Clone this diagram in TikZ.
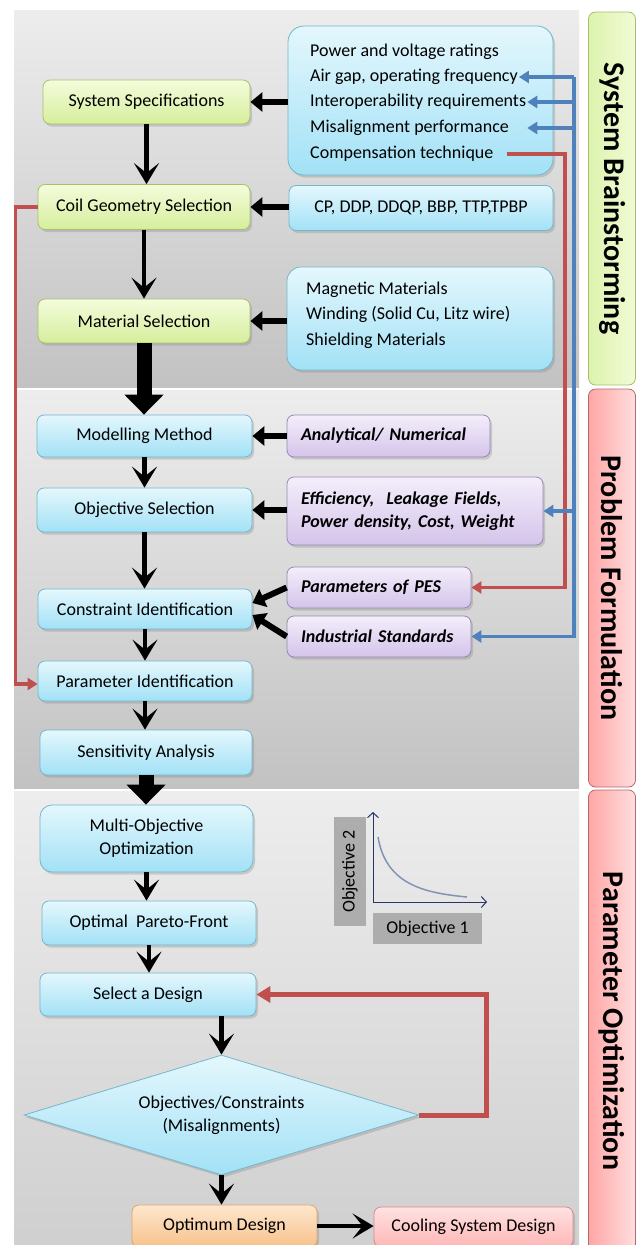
\documentclass[tikz,border=0pt]{standalone}
\usepackage{fontspec}
\setmainfont{Carlito}
\usetikzlibrary{shapes.geometric,arrows.meta,shadows,calc}

\definecolor{panelhi}{HTML}{EDEDED}
\definecolor{panello}{HTML}{C2C2C2}
\definecolor{panelmid}{HTML}{CFCFCF}
\definecolor{greentop}{HTML}{F4FCDC}
\definecolor{greenbot}{HTML}{D6EE9C}
\definecolor{greenedge}{HTML}{A6C06A}
\definecolor{bluetop}{HTML}{E4F7FD}
\definecolor{bluebot}{HTML}{A2E1F6}
\definecolor{blueedge}{HTML}{74B6CB}
\definecolor{purptop}{HTML}{F4EEFB}
\definecolor{purpbot}{HTML}{D4C4EA}
\definecolor{purpedge}{HTML}{9A86B6}
\definecolor{orantop}{HTML}{FDE6CE}
\definecolor{oranbot}{HTML}{F8C28C}
\definecolor{oranedge}{HTML}{E3A56C}
\definecolor{pinktop}{HTML}{FFE2E2}
\definecolor{pinkbot}{HTML}{FFB6B6}
\definecolor{pinkedge}{HTML}{D58A8A}
\definecolor{stagepinkl}{HTML}{FFA6A6}
\definecolor{stagepinkr}{HTML}{FFDEDE}
\definecolor{stagepinkedge}{HTML}{B46A6A}
\definecolor{stagegreenl}{HTML}{DDF3AE}
\definecolor{stagegreenr}{HTML}{F1FBD6}
\definecolor{linkred}{HTML}{C0504D}
\definecolor{linkblue}{HTML}{4F81BD}
\definecolor{axisblue}{HTML}{26366B}
\definecolor{curveblue}{HTML}{8194B4}
\definecolor{labelgray}{HTML}{ADADAD}

\newcommand{\boxfont}{\fontsize{18}{23}\selectfont}
\newcommand{\stagefont}{\fontsize{30}{34}\selectfont\bfseries}

\begin{document}
\begin{tikzpicture}[%
x=1pt, y=-1pt,
box/.style={rectangle, rounded corners=7pt, draw, line width=0.8pt,
  align=center, inner sep=2pt, font=\boxfont,
  drop shadow={shadow xshift=2pt, shadow yshift=-2.5pt, opacity=.3}},
greenbox/.style={box, draw=greenedge, top color=greentop, bottom color=greenbot},
bluebox/.style={box, draw=blueedge, top color=bluetop, bottom color=bluebot},
purplebox/.style={box, draw=purpedge, top color=purptop, bottom color=purpbot,
  font=\boxfont\bfseries\itshape, align=left, inner xsep=14pt},
orangebox/.style={box, draw=oranedge, top color=orantop, bottom color=oranbot},
pinkbox/.style={box, draw=pinkedge, top color=pinktop, bottom color=pinkbot},
infoline/.style={anchor=west, inner sep=1pt, font=\boxfont, text height=12pt, text depth=4pt},
stagebar/.style={rectangle, rounded corners=7pt, draw, line width=0.8pt,
  minimum width=47pt, label={[rotate=-90, font=\stagefont]center:#1}},
stagegreen/.style={stagebar=#1, draw=greenedge, left color=stagegreenl, right color=stagegreenr},
stagepink/.style={stagebar=#1, draw=stagepinkedge, left color=stagepinkl, right color=stagepinkr},
objlabel/.style={fill=labelgray, inner sep=0pt, font=\boxfont},
flow/.style={line width=4.5pt, -{Stealth[length=21pt, width=25pt, inset=10pt]}},
bigflow/.style={line width=15pt, -{Triangle[length=20pt, width=38pt]}},
feed/.style={line width=6pt, -{Triangle[length=12pt, width=19pt]}},
redlink/.style={draw=linkred, line width=3.5pt, -{Triangle[length=10pt, width=12pt]}},
bluelink/.style={draw=linkblue, line width=3.5pt, -{Triangle[length=10pt, width=12pt]}}
]
\clip (0,0) rectangle (637,1245);
\fill[white] (0,0) rectangle (637,1245);

% stage panels
\shade[top color=panelhi, bottom color=panello] (14,10) rectangle (579,387);
\shade[top color=panelhi, bottom color=panello] (14,390) rectangle (579,788);
\shade[top color=panelhi, bottom color=panelmid] (14,791) rectangle (579,1250);

% stage titles
\node[stagegreen=System Brainstorming, minimum height=373pt] (brain) at (612,198.5) {};
\node[stagepink=Problem Formulation, minimum height=398pt] (formul) at (612,588) {};
\node[stagepink=Parameter Optimization, minimum height=462pt] (optim) at (612,1021) {};

% system brainstorming
\node[greenbox, minimum width=207pt, minimum height=44pt] (spec) at (146.5,102) {System Specifications};
\node[bluebox, minimum width=265pt, minimum height=149pt, rounded corners=16pt] (info) at (420.5,100.5) {};
\node[infoline] (power) at (309,52) {Power and voltage ratings};
\node[infoline] (airgap) at (309,77) {Air gap, operating frequency};
\node[infoline] (interop) at (309,102) {Interoperability requirements};
\node[infoline] (misalign) at (309,128) {Misalignment performance};
\node[infoline] (comp) at (309,154) {Compensation technique};

\node[greenbox, minimum width=212pt, minimum height=45pt] (coil) at (144,207) {Coil Geometry Selection};
\node[bluebox, minimum width=264pt, minimum height=45pt] (cp) at (421,208) {CP, DDP, DDQP, BBP, TTP,TPBP};

\node[greenbox, minimum width=212pt, minimum height=44pt] (mat) at (144,321) {Material Selection};
\node[bluebox, minimum width=266pt, minimum height=103pt, rounded corners=14pt] (matinfo) at (420,318.5) {};
\node[infoline] (magnet) at (305,290) {Magnetic Materials};
\node[infoline] (winding) at (305,315) {Winding (Solid Cu, Litz wire)};
\node[infoline] (shield) at (305,341) {Shielding Materials};

% problem formulation
\node[bluebox, minimum width=215pt, minimum height=42pt] (model) at (144.5,436) {Modelling Method};
\node[purplebox, minimum width=203pt, minimum height=42pt, text width=175pt] (analyt) at (388.5,436) {Analytical/ Numerical};
\node[bluebox, minimum width=215pt, minimum height=44pt] (objsel) at (144.5,510) {Objective Selection};
\node[purplebox, minimum width=256pt, minimum height=68pt, text width=228pt] (effic) at (415,511) {Efficiency,\ \ Leakage Fields,\\Power density, Cost, Weight};
\node[bluebox, minimum width=214pt, minimum height=40pt] (constr) at (145,609) {Constraint Identification};
\node[purplebox, minimum width=184pt, minimum height=41pt, text width=156pt] (pes) at (379,587.5) {Parameters of PES};
\node[purplebox, minimum width=184pt, minimum height=41pt, text width=156pt] (indust) at (379,636.5) {Industrial Standards};
\node[bluebox, minimum width=214pt, minimum height=40pt] (param) at (145,681) {Parameter Identification};
\node[bluebox, minimum width=212pt, minimum height=45pt] (sens) at (146,752.5) {Sensitivity Analysis};

% parameter optimization
\node[bluebox, minimum width=213pt, minimum height=67pt, rounded corners=12pt] (multi) at (146.5,838.5) {Multi-Objective\\Optimization};
\node[bluebox, minimum width=214pt, minimum height=44pt] (pareto) at (149,923) {Optimal\ \ Pareto-Front};
\node[bluebox, minimum width=216pt, minimum height=43pt] (select) at (148,994.5) {Select a Design};
\node[diamond, draw=blueedge, line width=0.8pt, top color=bluetop, bottom color=bluebot,
  aspect=3.3, inner sep=0pt, minimum width=395pt, minimum height=120pt, align=center, font=\boxfont,
  drop shadow={shadow xshift=2pt, shadow yshift=-2.5pt, opacity=.3}] (check) at (221.5,1115)
  {Objectives/Constraints\\(Misalignments)};
\node[orangebox, minimum width=185pt, minimum height=42pt] (optimum) at (224.5,1226) {Optimum Design};
\node[pinkbox, minimum width=199pt, minimum height=40pt] (cooling) at (473.5,1227) {Cooling System Design};

% pareto sketch
\coordinate (origin) at (373,902);
\node[objlabel, rotate=90, minimum width=109pt, minimum height=32pt] (objtwo) at (350,871.5) {Objective 2};
\node[objlabel, minimum width=109pt, minimum height=31pt] (objone) at (427.5,928.5) {Objective 1};
\draw[axisblue, line width=1pt, {Straight Barb[length=5pt, width=11pt]}-{Straight Barb[length=5pt, width=11pt]}]
  (373,812) -- (origin) -- (487,902);
\draw[curveblue, line width=1.5pt] (378,837) .. controls (386,885) and (425,893) .. (467,897);

% main flow
\draw[flow] (spec.south) -- (spec.south |- coil.north);
\draw[flow] (coil.south) -- (coil.south |- mat.north);
\draw[bigflow] (mat.south) -- (mat.south |- model.north);
\draw[flow] (model.south) -- (model.south |- objsel.north);
\draw[flow] (objsel.south) -- (objsel.south |- constr.north);
\draw[flow] (constr.south) -- (constr.south |- param.north);
\draw[flow] (param.south) -- (param.south |- sens.north);
\draw[bigflow] (sens.south) -- (sens.south |- multi.north);
\draw[flow] (multi.south) -- (multi.south |- pareto.north);
\draw[flow] (pareto.south) -- (pareto.south |- select.north);
\draw[flow] (check.north |- select.south) -- (check.north);
\draw[flow] (check.south) -- (check.south |- optimum.north);
\draw[flow] (optimum.east) -- (optimum.east -| cooling.west);

% side inputs
\draw[feed] (info.west |- spec) -- (spec.east);
\draw[feed] (cp.west |- coil) -- (coil.east);
\draw[feed] (matinfo.west |- mat) -- (mat.east);
\draw[feed] (analyt.west) -- (model.east);
\draw[feed] (effic.west |- objsel) -- (objsel.east);
\draw[feed] (pes.west) -- ([yshift=6pt]constr.east);
\draw[feed] (indust.west) -- ([yshift=-6pt]constr.east);

% red and blue links
\coordinate (redtop) at (565,154);
\coordinate (bluetop) at (574,77);
\draw[redlink] ([xshift=12pt]comp.east) -- (redtop) |- (pes.east);
\draw[bluelink] (bluetop) |- (indust.east);
\draw[bluelink] (bluetop) -- (airgap.east);
\draw[bluelink] (bluetop |- interop) -- (interop.east);
\draw[bluelink] (bluetop |- misalign) -- (misalign -| interop.east);
\draw[bluelink] (bluetop |- effic) -- (effic.east);
\draw[redlink] (coil.west) -- ++(-22,0) |- ([yshift=-3pt]param.west);
\draw[redlink, line width=5pt, -{Triangle[length=14pt, width=16pt]}] (check.east) -- (486,1115) |- (select.east);
\end{tikzpicture}
\end{document}
